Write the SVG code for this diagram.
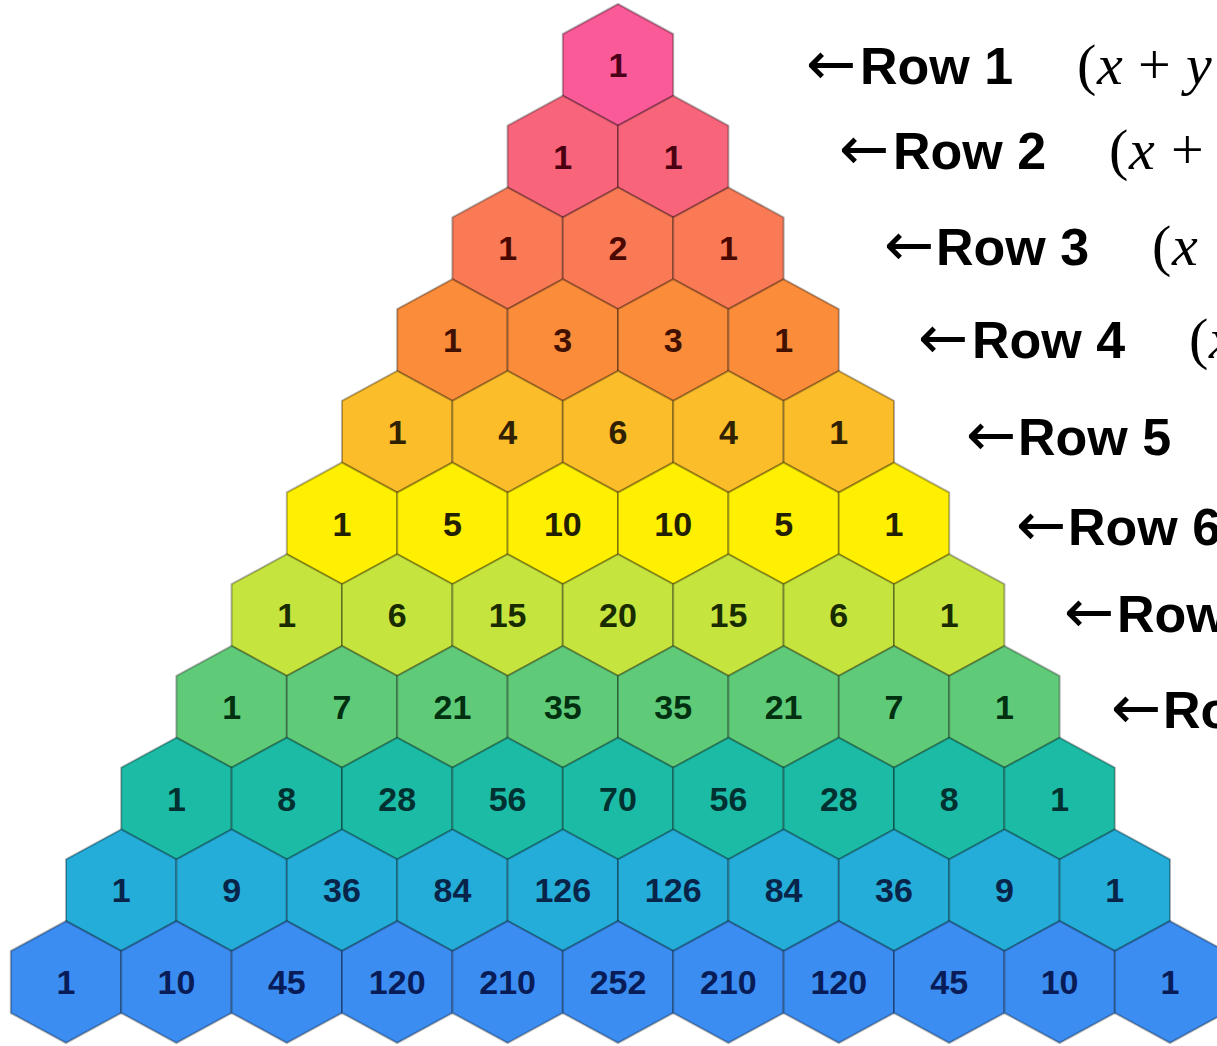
<svg xmlns="http://www.w3.org/2000/svg" xmlns:xlink="http://www.w3.org/1999/xlink" width="1217" height="1046" viewBox="0 0 1217 1046">
<defs>
<path id="hex" d="M0,-61 L55.2,-31 L55.2,31 L0,61 L-55.2,31 L-55.2,-31 Z"/>
</defs>
<style>
.node use{stroke:#000;stroke-opacity:0.3;stroke-width:2;stroke-linejoin:round}
.node text{font-family:"Liberation Sans",Arial,sans-serif;font-weight:bold;font-size:34px;text-anchor:middle}
.r1 use{fill:#FA5A98}.r1 text{fill:#4a0018}
.r2 use{fill:#F8647A}.r2 text{fill:#4a0010}
.r3 use{fill:#F97A55}.r3 text{fill:#4a0800}
.r4 use{fill:#FA8C3A}.r4 text{fill:#401000}
.r5 use{fill:#FCBD2A}.r5 text{fill:#302200}
.r6 use{fill:#FFEF00}.r6 text{fill:#222000}
.r7 use{fill:#C6E43E}.r7 text{fill:#182c00}
.r8 use{fill:#5FCB78}.r8 text{fill:#003010}
.r9 use{fill:#1CBBA6}.r9 text{fill:#003030}
.r10 use{fill:#24ADD8}.r10 text{fill:#082448}
.r11 use{fill:#3C8DF2}.r11 text{fill:#081c58}
.lbl{font-family:"Liberation Sans",Arial,sans-serif;font-weight:bold;font-size:52px;fill:#000}
.arr{font-family:"DejaVu Sans","Liberation Sans",sans-serif;font-weight:normal;font-size:60px}
.math{font-family:"Liberation Serif","Times New Roman",serif;font-size:58px;fill:#000}
.it{font-style:italic}
</style>
<rect width="1217" height="1046" fill="#fff"/>
<g id="triangle">
<g id="r1c1" class="node r1"><use xlink:href="#hex" href="#hex" x="618" y="65"/><text x="618" y="77">1</text></g>

<g id="r2c1" class="node r2"><use xlink:href="#hex" href="#hex" x="562.8" y="156.7"/><text x="562.8" y="168.7">1</text></g>
<g id="r2c2" class="node r2"><use xlink:href="#hex" href="#hex" x="673.2" y="156.7"/><text x="673.2" y="168.7">1</text></g>

<g id="r3c1" class="node r3"><use xlink:href="#hex" href="#hex" x="507.6" y="248.4"/><text x="507.6" y="260.4">1</text></g>
<g id="r3c2" class="node r3"><use xlink:href="#hex" href="#hex" x="618" y="248.4"/><text x="618" y="260.4">2</text></g>
<g id="r3c3" class="node r3"><use xlink:href="#hex" href="#hex" x="728.4" y="248.4"/><text x="728.4" y="260.4">1</text></g>

<g id="r4c1" class="node r4"><use xlink:href="#hex" href="#hex" x="452.4" y="340.1"/><text x="452.4" y="352.1">1</text></g>
<g id="r4c2" class="node r4"><use xlink:href="#hex" href="#hex" x="562.8" y="340.1"/><text x="562.8" y="352.1">3</text></g>
<g id="r4c3" class="node r4"><use xlink:href="#hex" href="#hex" x="673.2" y="340.1"/><text x="673.2" y="352.1">3</text></g>
<g id="r4c4" class="node r4"><use xlink:href="#hex" href="#hex" x="783.6" y="340.1"/><text x="783.6" y="352.1">1</text></g>

<g id="r5c1" class="node r5"><use xlink:href="#hex" href="#hex" x="397.2" y="431.8"/><text x="397.2" y="443.8">1</text></g>
<g id="r5c2" class="node r5"><use xlink:href="#hex" href="#hex" x="507.6" y="431.8"/><text x="507.6" y="443.8">4</text></g>
<g id="r5c3" class="node r5"><use xlink:href="#hex" href="#hex" x="618" y="431.8"/><text x="618" y="443.8">6</text></g>
<g id="r5c4" class="node r5"><use xlink:href="#hex" href="#hex" x="728.4" y="431.8"/><text x="728.4" y="443.8">4</text></g>
<g id="r5c5" class="node r5"><use xlink:href="#hex" href="#hex" x="838.8" y="431.8"/><text x="838.8" y="443.8">1</text></g>

<g id="r6c1" class="node r6"><use xlink:href="#hex" href="#hex" x="342" y="523.5"/><text x="342" y="535.5">1</text></g>
<g id="r6c2" class="node r6"><use xlink:href="#hex" href="#hex" x="452.4" y="523.5"/><text x="452.4" y="535.5">5</text></g>
<g id="r6c3" class="node r6"><use xlink:href="#hex" href="#hex" x="562.8" y="523.5"/><text x="562.8" y="535.5">10</text></g>
<g id="r6c4" class="node r6"><use xlink:href="#hex" href="#hex" x="673.2" y="523.5"/><text x="673.2" y="535.5">10</text></g>
<g id="r6c5" class="node r6"><use xlink:href="#hex" href="#hex" x="783.6" y="523.5"/><text x="783.6" y="535.5">5</text></g>
<g id="r6c6" class="node r6"><use xlink:href="#hex" href="#hex" x="894" y="523.5"/><text x="894" y="535.5">1</text></g>

<g id="r7c1" class="node r7"><use xlink:href="#hex" href="#hex" x="286.8" y="615.2"/><text x="286.8" y="627.2">1</text></g>
<g id="r7c2" class="node r7"><use xlink:href="#hex" href="#hex" x="397.2" y="615.2"/><text x="397.2" y="627.2">6</text></g>
<g id="r7c3" class="node r7"><use xlink:href="#hex" href="#hex" x="507.6" y="615.2"/><text x="507.6" y="627.2">15</text></g>
<g id="r7c4" class="node r7"><use xlink:href="#hex" href="#hex" x="618" y="615.2"/><text x="618" y="627.2">20</text></g>
<g id="r7c5" class="node r7"><use xlink:href="#hex" href="#hex" x="728.4" y="615.2"/><text x="728.4" y="627.2">15</text></g>
<g id="r7c6" class="node r7"><use xlink:href="#hex" href="#hex" x="838.8" y="615.2"/><text x="838.8" y="627.2">6</text></g>
<g id="r7c7" class="node r7"><use xlink:href="#hex" href="#hex" x="949.2" y="615.2"/><text x="949.2" y="627.2">1</text></g>

<g id="r8c1" class="node r8"><use xlink:href="#hex" href="#hex" x="231.6" y="706.9"/><text x="231.6" y="718.9">1</text></g>
<g id="r8c2" class="node r8"><use xlink:href="#hex" href="#hex" x="342" y="706.9"/><text x="342" y="718.9">7</text></g>
<g id="r8c3" class="node r8"><use xlink:href="#hex" href="#hex" x="452.4" y="706.9"/><text x="452.4" y="718.9">21</text></g>
<g id="r8c4" class="node r8"><use xlink:href="#hex" href="#hex" x="562.8" y="706.9"/><text x="562.8" y="718.9">35</text></g>
<g id="r8c5" class="node r8"><use xlink:href="#hex" href="#hex" x="673.2" y="706.9"/><text x="673.2" y="718.9">35</text></g>
<g id="r8c6" class="node r8"><use xlink:href="#hex" href="#hex" x="783.6" y="706.9"/><text x="783.6" y="718.9">21</text></g>
<g id="r8c7" class="node r8"><use xlink:href="#hex" href="#hex" x="894" y="706.9"/><text x="894" y="718.9">7</text></g>
<g id="r8c8" class="node r8"><use xlink:href="#hex" href="#hex" x="1004.4" y="706.9"/><text x="1004.4" y="718.9">1</text></g>

<g id="r9c1" class="node r9"><use xlink:href="#hex" href="#hex" x="176.4" y="798.6"/><text x="176.4" y="810.6">1</text></g>
<g id="r9c2" class="node r9"><use xlink:href="#hex" href="#hex" x="286.8" y="798.6"/><text x="286.8" y="810.6">8</text></g>
<g id="r9c3" class="node r9"><use xlink:href="#hex" href="#hex" x="397.2" y="798.6"/><text x="397.2" y="810.6">28</text></g>
<g id="r9c4" class="node r9"><use xlink:href="#hex" href="#hex" x="507.6" y="798.6"/><text x="507.6" y="810.6">56</text></g>
<g id="r9c5" class="node r9"><use xlink:href="#hex" href="#hex" x="618" y="798.6"/><text x="618" y="810.6">70</text></g>
<g id="r9c6" class="node r9"><use xlink:href="#hex" href="#hex" x="728.4" y="798.6"/><text x="728.4" y="810.6">56</text></g>
<g id="r9c7" class="node r9"><use xlink:href="#hex" href="#hex" x="838.8" y="798.6"/><text x="838.8" y="810.6">28</text></g>
<g id="r9c8" class="node r9"><use xlink:href="#hex" href="#hex" x="949.2" y="798.6"/><text x="949.2" y="810.6">8</text></g>
<g id="r9c9" class="node r9"><use xlink:href="#hex" href="#hex" x="1059.6" y="798.6"/><text x="1059.6" y="810.6">1</text></g>

<g id="r10c1" class="node r10"><use xlink:href="#hex" href="#hex" x="121.2" y="890.3"/><text x="121.2" y="902.3">1</text></g>
<g id="r10c2" class="node r10"><use xlink:href="#hex" href="#hex" x="231.6" y="890.3"/><text x="231.6" y="902.3">9</text></g>
<g id="r10c3" class="node r10"><use xlink:href="#hex" href="#hex" x="342" y="890.3"/><text x="342" y="902.3">36</text></g>
<g id="r10c4" class="node r10"><use xlink:href="#hex" href="#hex" x="452.4" y="890.3"/><text x="452.4" y="902.3">84</text></g>
<g id="r10c5" class="node r10"><use xlink:href="#hex" href="#hex" x="562.8" y="890.3"/><text x="562.8" y="902.3">126</text></g>
<g id="r10c6" class="node r10"><use xlink:href="#hex" href="#hex" x="673.2" y="890.3"/><text x="673.2" y="902.3">126</text></g>
<g id="r10c7" class="node r10"><use xlink:href="#hex" href="#hex" x="783.6" y="890.3"/><text x="783.6" y="902.3">84</text></g>
<g id="r10c8" class="node r10"><use xlink:href="#hex" href="#hex" x="894" y="890.3"/><text x="894" y="902.3">36</text></g>
<g id="r10c9" class="node r10"><use xlink:href="#hex" href="#hex" x="1004.4" y="890.3"/><text x="1004.4" y="902.3">9</text></g>
<g id="r10c10" class="node r10"><use xlink:href="#hex" href="#hex" x="1114.8" y="890.3"/><text x="1114.8" y="902.3">1</text></g>

<g id="r11c1" class="node r11"><use xlink:href="#hex" href="#hex" x="66" y="982"/><text x="66" y="994">1</text></g>
<g id="r11c2" class="node r11"><use xlink:href="#hex" href="#hex" x="176.4" y="982"/><text x="176.4" y="994">10</text></g>
<g id="r11c3" class="node r11"><use xlink:href="#hex" href="#hex" x="286.8" y="982"/><text x="286.8" y="994">45</text></g>
<g id="r11c4" class="node r11"><use xlink:href="#hex" href="#hex" x="397.2" y="982"/><text x="397.2" y="994">120</text></g>
<g id="r11c5" class="node r11"><use xlink:href="#hex" href="#hex" x="507.6" y="982"/><text x="507.6" y="994">210</text></g>
<g id="r11c6" class="node r11"><use xlink:href="#hex" href="#hex" x="618" y="982"/><text x="618" y="994">252</text></g>
<g id="r11c7" class="node r11"><use xlink:href="#hex" href="#hex" x="728.4" y="982"/><text x="728.4" y="994">210</text></g>
<g id="r11c8" class="node r11"><use xlink:href="#hex" href="#hex" x="838.8" y="982"/><text x="838.8" y="994">120</text></g>
<g id="r11c9" class="node r11"><use xlink:href="#hex" href="#hex" x="949.2" y="982"/><text x="949.2" y="994">45</text></g>
<g id="r11c10" class="node r11"><use xlink:href="#hex" href="#hex" x="1059.6" y="982"/><text x="1059.6" y="994">10</text></g>
<g id="r11c11" class="node r11"><use xlink:href="#hex" href="#hex" x="1170" y="982"/><text x="1170" y="994">1</text></g>
</g>
<g id="connectors"></g>
<g id="labels">
<g id="label1"><text class="lbl" y="84"><tspan class="arr" x="806">←</tspan><tspan x="860">Row 1</tspan></text>
<text class="math" y="84"><tspan x="1077">(</tspan><tspan class="it" x="1097">x</tspan><tspan x="1138">+</tspan><tspan class="it" x="1186">y</tspan></text></g>
<g id="label2"><text class="lbl" y="169"><tspan class="arr" x="839">←</tspan><tspan x="893">Row 2</tspan></text>
<text class="math" y="169"><tspan x="1109">(</tspan><tspan class="it" x="1129">x</tspan><tspan x="1171">+</tspan></text></g>
<g id="label3"><text class="lbl" y="265"><tspan class="arr" x="884">←</tspan><tspan x="936">Row 3</tspan></text>
<text class="math" y="265"><tspan x="1152">(</tspan><tspan class="it" x="1172">x</tspan></text></g>
<g id="label4"><text class="lbl" y="358"><tspan class="arr" x="918">←</tspan><tspan x="972">Row 4</tspan></text>
<text class="math" y="358"><tspan x="1189">(</tspan><tspan class="it" x="1209">x</tspan></text></g>
<g id="label5"><text class="lbl" y="455"><tspan class="arr" x="966">←</tspan><tspan x="1018">Row 5</tspan></text></g>
<g id="label6"><text class="lbl" y="545"><tspan class="arr" x="1016">←</tspan><tspan x="1068">Row 6</tspan></text></g>
<g id="label7"><text class="lbl" y="632"><tspan class="arr" x="1064">←</tspan><tspan x="1117">Row</tspan></text></g>
<g id="label8"><text class="lbl" y="728"><tspan class="arr" x="1111">←</tspan><tspan x="1163">Ro</tspan></text></g>
</g>
</svg>
